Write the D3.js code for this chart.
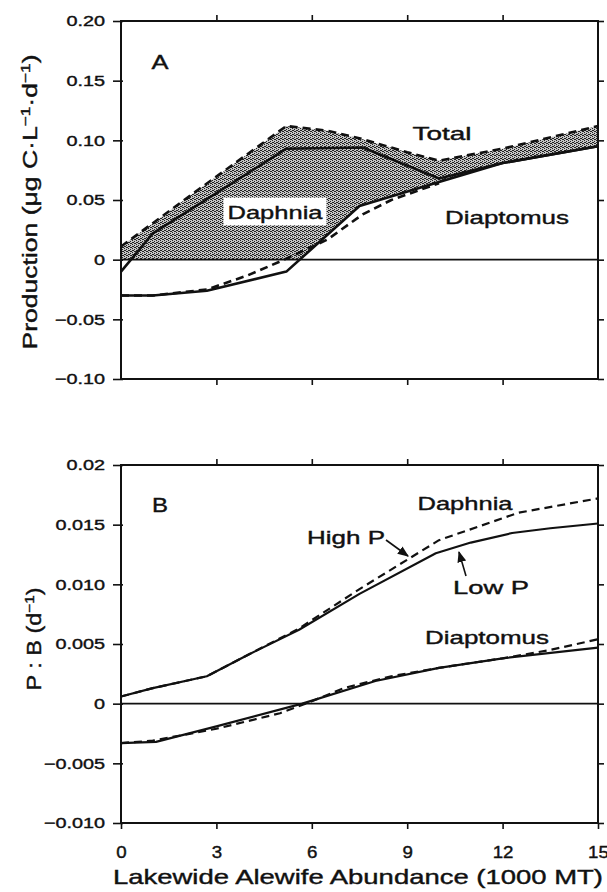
<!DOCTYPE html>
<html><head><meta charset="utf-8">
<script src="https://cdn.jsdelivr.net/npm/d3@7/dist/d3.min.js"></script>
<style>body{margin:0;background:#fff}svg{display:block}text{font-family:"Liberation Sans",Arial,sans-serif;fill:#111;stroke:#111;stroke-width:0.4px}</style>
</head><body><svg id="c" width="607" height="892"></svg>
<script>
// ---------- DATA ----------
const xTicks = [0, 3, 6, 9, 12, 15];
const yTicksA = [0.20, 0.15, 0.10, 0.05, 0, -0.05, -0.10];
const yTickLabelsA = ["0.20", "0.15", "0.10", "0.05", "0", "\u22120.05", "\u22120.10"];
const yTicksB = [0.02, 0.015, 0.010, 0.005, 0, -0.005, -0.010];
const yTickLabelsB = ["0.02", "0.015", "0.010", "0.005", "0", "\u22120.005", "\u22120.010"];

// Panel A: production
const totalHighX = [0, 2.5, 5.2, 6.5, 7.6, 9, 10, 12, 15];
const totalHighY = [0.011, 0.060, 0.112, 0.108, 0.101, 0.090, 0.083, 0.093, 0.112];
const totalLowX = [0, 1, 5.2, 7.6, 10, 12, 15];
const totalLowY = [-0.010, 0.022, 0.093, 0.094, 0.068, 0.081, 0.095];
const diapLowX = [0, 1, 2.7, 5.2, 7.5, 10, 12, 15];
const diapLowY = [-0.030, -0.030, -0.026, -0.010, 0.045, 0.065, 0.081, 0.095];
const diapHighX = [0, 1, 2.7, 4, 4.7, 5.3, 6.5, 7.6, 8.5, 10];
const diapHighY = [-0.030, -0.030, -0.025, -0.013, -0.005, 0.002, 0.017, 0.038, 0.050, 0.064];

// Panel B: P:B
const daphLowX = [0, 1, 2.7, 4, 5.6, 7.5, 9.9, 11, 12.3, 13.5, 15];
const daphLowY = [0.0006, 0.0013, 0.0023, 0.0041, 0.0062, 0.0092, 0.0126, 0.0135, 0.0143, 0.0147, 0.0151];
const daphHighX = [0, 1, 2.7, 4, 5.6, 7.5, 10, 12.5, 15];
const daphHighY = [0.0006, 0.0013, 0.0023, 0.0041, 0.0063, 0.0096, 0.0137, 0.0160, 0.0172];
const diapBLowX = [0, 1.1, 3, 5.7, 8, 10, 12, 15];
const diapBLowY = [-0.0033, -0.0032, -0.0019, 0.0, 0.0019, 0.0030, 0.0038, 0.0047];
const diapBHighX = [0, 1, 3, 5, 6, 7, 8.5, 10, 12, 13.5, 15];
const diapBHighY = [-0.0033, -0.0031, -0.0021, -0.0008, 0.0002, 0.0013, 0.0023, 0.0030, 0.0038, 0.0045, 0.0054];

// ---------- DRAW ----------
const svg = d3.select("#c");
const defs = svg.append("defs");
const pat = defs.append("pattern").attr("id","stip").attr("patternUnits","userSpaceOnUse")
  .attr("width",4).attr("height",4);
pat.append("rect").attr("width",4).attr("height",4).attr("fill","#c4c4c4");
[[0,0],[2,1],[1,2],[3,3],[2,3],[0,2]].forEach(p=>pat.append("rect").attr("x",p[0]).attr("y",p[1]).attr("width",1).attr("height",1).attr("fill","#222"));
defs.append("marker").attr("id","arr").attr("viewBox","0 0 10 10").attr("refX",9).attr("refY",5)
  .attr("markerWidth",7).attr("markerHeight",7).attr("orient","auto")
  .append("path").attr("d","M0,1 L10,5 L0,9 z").attr("fill","#111");

const x = d3.scaleLinear().domain([0,15]).range([121,598]);
const yA = d3.scaleLinear().domain([-0.10,0.20]).range([379,21]);
const yB = d3.scaleLinear().domain([-0.010,0.02]).range([823,465]);

const zip = (xs,ys)=>xs.map((v,i)=>[v,ys[i]]);
function widen(sel, k){ sel.each(function(){ const w=this.getComputedTextLength(); if(w>0){ this.setAttribute("textLength", w*k); this.setAttribute("lengthAdjust","spacingAndGlyphs"); } }); }

function frame(y, yt, ylab, showX){
  const g = svg.append("g");
  const [y0,y1] = y.range();
  g.append("g").attr("transform",`translate(${x(0)},0)`).call(d3.axisLeft(y).tickValues(yt).tickFormat((d,i)=>ylab[i]).tickSizeInner(8).tickSizeOuter(0).tickPadding(8))
    .call(s=>{s.select(".domain").remove(); s.selectAll("line").attr("stroke","#111").attr("stroke-width",1.6).attr("x1",2);
      s.selectAll("text").style("font-size","15px").attr("fill","#111"); widen(s.selectAll("text"),1.32);});
  g.append("g").attr("transform",`translate(${x(15)},0)`).call(d3.axisRight(y).tickValues(yt).tickFormat("").tickSizeInner(6).tickSizeOuter(0))
    .call(s=>{s.select(".domain").remove(); s.selectAll("line").attr("stroke","#111").attr("stroke-width",1.6);});
  g.append("g").attr("transform",`translate(0,${y1})`).call(d3.axisTop(x).tickValues([3,6,9,12]).tickFormat("").tickSizeInner(6).tickSizeOuter(0))
    .call(s=>{s.select(".domain").remove(); s.selectAll("line").attr("stroke","#111").attr("stroke-width",1.6);});
  g.append("g").attr("transform",`translate(0,${y0})`).call(d3.axisBottom(x).tickValues(showX?xTicks:[3,6,9,12]).tickFormat(showX?d3.format("d"):"").tickSizeInner(6).tickSizeOuter(0).tickPadding(17))
    .call(s=>{s.select(".domain").remove(); s.selectAll("line").attr("stroke","#111").attr("stroke-width",1.6);
      s.selectAll("text").style("font-size","17px").attr("fill","#111"); widen(s.selectAll("text"),1.1);});
  g.append("rect").attr("x",x(0)).attr("y",y1).attr("width",x(15)-x(0)).attr("height",y0-y1)
    .attr("fill","none").attr("stroke","#111").attr("stroke-width",2);
  g.append("line").attr("x1",x(0)).attr("x2",x(15)).attr("y1",y(0)).attr("y2",y(0)).attr("stroke","#111").attr("stroke-width",1.8);
}

// Panel A shading (between Total and max(0, Diaptomus))
const shadeXs = Array.from(new Set([...totalHighX, ...diapLowX, 5.62])).sort((a,b)=>a-b);
const interp = (xs,ys)=>d3.scaleLinear().domain(xs).range(ys);
const fTop = interp(totalHighX,totalHighY), fBot = interp(diapLowX,diapLowY);
svg.append("path").datum(shadeXs)
  .attr("d", d3.area().x(d=>x(d)).y0(d=>yA(Math.max(0,fBot(d)))).y1(d=>yA(fTop(d))))
  .attr("fill","url(#stip)");

frame(yA, yTicksA, yTickLabelsA, false);
frame(yB, yTicksB, yTickLabelsB, true);

const lineA = d3.line().x(d=>x(d[0])).y(d=>yA(d[1]));
const lineB = d3.line().x(d=>x(d[0])).y(d=>yB(d[1]));
function draw(gen, pts, dashed, w){
  svg.append("path").datum(pts).attr("d",gen).attr("fill","none").attr("stroke","#111")
    .attr("stroke-width",w).attr("stroke-linejoin","round")
    .attr("stroke-dasharray",dashed?"8,5":null);
}
draw(lineA, zip(diapLowX,diapLowY), false, 2.6);
draw(lineA, zip(diapHighX,diapHighY), true, 2.6);
draw(lineA, zip(totalLowX,totalLowY), false, 2.6);
draw(lineA, zip(totalHighX,totalHighY), true, 2.6);

draw(lineB, zip(daphLowX,daphLowY), false, 2.2);
draw(lineB, zip(daphHighX,daphHighY), true, 2.2);
draw(lineB, zip(diapBLowX,diapBLowY), false, 2.2);
draw(lineB, zip(diapBHighX,diapBHighY), true, 2.2);

// Labels
function lab(t, cx, cy, len, fs, bg){
  if(bg){ svg.append("rect").attr("x",cx-len/2-4).attr("y",cy-fs*0.75).attr("width",len+8).attr("height",fs*1.45).attr("fill","#fff"); }
  svg.append("text").attr("x",cx).attr("y",cy+fs*0.35).attr("text-anchor","middle").style("font-size",fs+"px")
    .attr("textLength",len).attr("lengthAdjust","spacingAndGlyphs").text(t);
}
lab("A", 160, 62, 17, 21);
lab("Total", 442, 133, 59, 19);
lab("Daphnia", 275, 212, 95, 19, true);
lab("Diaptomus", 507, 217, 124, 19);
lab("B", 160, 505, 16, 21);
lab("Daphnia", 465, 503, 95, 19);
lab("High P", 346, 537, 78, 19);
lab("Low P", 491, 587, 76, 19);
lab("Diaptomus", 487, 637, 124, 19);

svg.append("line").attr("x1",386).attr("y1",540).attr("x2",408).attr("y2",556).attr("stroke","#111").attr("stroke-width",1.6).attr("marker-end","url(#arr)");
svg.append("line").attr("x1",466).attr("y1",576).attr("x2",459).attr("y2",552).attr("stroke","#111").attr("stroke-width",1.6).attr("marker-end","url(#arr)");

// Axis titles
const ta = svg.append("text").attr("transform","translate(37,202) rotate(-90)").attr("text-anchor","middle")
  .style("font-size","20px").attr("textLength",295).attr("lengthAdjust","spacingAndGlyphs");
ta.append("tspan").text("Production (\u03bcg C\u00b7L");
ta.append("tspan").attr("dy",-7).style("font-size","13px").text("\u22121");
ta.append("tspan").attr("dy",7).text("\u00b7d");
ta.append("tspan").attr("dy",-7).style("font-size","13px").text("\u22121");
ta.append("tspan").attr("dy",7).text(")");

const tb = svg.append("text").attr("transform","translate(41,639) rotate(-90)").attr("text-anchor","middle")
  .style("font-size","20px").attr("textLength",103).attr("lengthAdjust","spacingAndGlyphs");
tb.append("tspan").text("P : B (d");
tb.append("tspan").attr("dy",-7).style("font-size","13px").text("\u22121");
tb.append("tspan").attr("dy",7).text(")");

svg.append("text").attr("x",358).attr("y",884).attr("text-anchor","middle").style("font-size","21px")
  .attr("textLength",490).attr("lengthAdjust","spacingAndGlyphs").text("Lakewide Alewife Abundance (1000 MT)");
</script></body></html>
